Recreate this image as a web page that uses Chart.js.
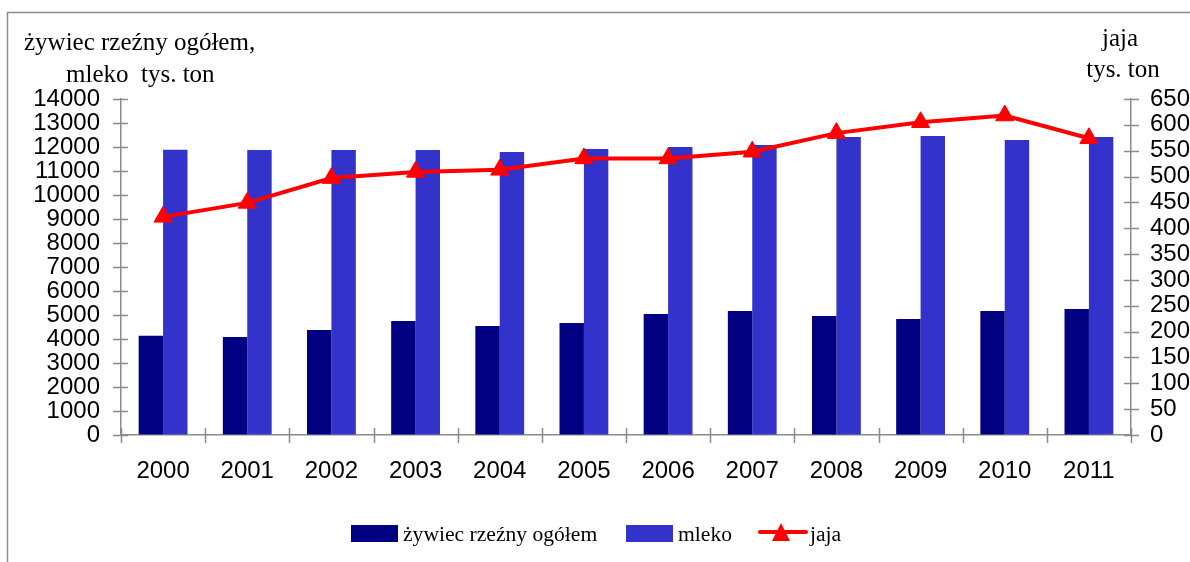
<!DOCTYPE html>
<html><head><meta charset="utf-8">
<script src="https://cdn.jsdelivr.net/npm/chart.js@4"></script>
<style>html,body{margin:0;padding:0;background:#fff;overflow:hidden}#wrap{position:absolute;left:0;top:0;width:1190px;height:562px}</style>
</head><body><div id="wrap"><canvas id="c" width="1190" height="562"></canvas></div>
<script>
const years = ['2000','2001','2002','2003','2004','2005','2006','2007','2008','2009','2010','2011'];
const zywiec = [4140,4080,4375,4750,4545,4670,5045,5170,4960,4835,5170,5250];
const mleko = [11890,11880,11880,11880,11790,11920,12000,12080,12420,12460,12290,12420];
const jaja = [422,449,497,509,513,535,535,548,584,605,618,574];
const leftAxis = {min:0, max:14000, step:1000};
const rightAxis = {min:0, max:650, step:50};
const leftTitle = ['żywiec rzeźny ogółem,', 'mleko  tys. ton'];
const rightTitle = ['jaja', 'tys. ton'];
const legendLabels = ['żywiec rzeźny ogółem', 'mleko', 'jaja'];

const AX = '#8c8c8c';
const C1 = '#000080', C2 = '#3333CC', C3 = '#FF0000';
const tickFont = {family:'"Liberation Sans", Arial, sans-serif', size:24};

const deco = {
  id:'deco',
  beforeDraw(chart){
    const ctx = chart.ctx;
    ctx.save();
    ctx.strokeStyle = AX; ctx.lineWidth = 1.5;
    ctx.strokeRect(7.5, 12.5, 1400, 1000);
    ctx.restore();
  },
  afterDraw(chart){
    const ctx = chart.ctx;
    const x = chart.scales.x, yl = chart.scales.y, yr = chart.scales.y2;
    ctx.save();
    ctx.strokeStyle = AX; ctx.lineWidth = 1.5;
    ctx.beginPath();
    yl.ticks.forEach(t => { const p = Math.round(yl.getPixelForValue(t.value))+0.5; ctx.moveTo(113,p); ctx.lineTo(128,p); });
    yr.ticks.forEach(t => { const p = Math.round(yr.getPixelForValue(t.value))+0.5; ctx.moveTo(1124,p); ctx.lineTo(1139,p); });
    const w = (x.right - x.left) / years.length;
    for (let i=0;i<=years.length;i++){ const p = Math.round(x.left + i*w)+0.5; ctx.moveTo(p,428); ctx.lineTo(p,443); }
    ctx.stroke();
    // axis titles
    ctx.fillStyle = '#000';
    ctx.textBaseline = 'alphabetic';
    ctx.font = '25px "Liberation Serif", "Times New Roman", serif';
    ctx.textAlign = 'left';
    ctx.fillText(leftTitle[0], 24, 50);
    ctx.fillText(leftTitle[1], 66, 82);
    ctx.textAlign = 'center';
    ctx.fillText(rightTitle[0], 1120, 46);
    ctx.fillText(rightTitle[1], 1123, 77);
    // legend
    ctx.font = '21.6px "Liberation Serif", "Times New Roman", serif';
    ctx.textAlign = 'left';
    ctx.fillStyle = C1; ctx.fillRect(351, 525, 47, 17);
    ctx.fillStyle = '#000'; ctx.fillText(legendLabels[0], 403, 541);
    ctx.fillStyle = C2; ctx.fillRect(626, 525, 47, 17);
    ctx.fillStyle = '#000'; ctx.fillText(legendLabels[1], 678, 541);
    ctx.strokeStyle = C3; ctx.lineWidth = 4; ctx.lineCap = 'round';
    ctx.beginPath(); ctx.moveTo(760, 532); ctx.lineTo(806, 532); ctx.stroke();
    ctx.fillStyle = C3; ctx.beginPath(); ctx.moveTo(781, 523); ctx.lineTo(790, 541); ctx.lineTo(772, 541); ctx.closePath(); ctx.fill();
    ctx.fillStyle = '#000'; ctx.fillText(legendLabels[2], 810, 541);
    ctx.restore();
  }
};

new Chart(document.getElementById('c'), {
  data: {
    labels: years,
    datasets: [
      {type:'line', label:legendLabels[2], data:jaja, yAxisID:'y2', borderColor:C3, backgroundColor:C3, borderWidth:4,
       pointStyle:'triangle', pointRadius:10.5, pointHoverRadius:10.5, pointBackgroundColor:C3, pointBorderColor:C3, pointBorderWidth:1, order:0, tension:0},
      {type:'bar', label:legendLabels[0], data:zywiec, yAxisID:'y', backgroundColor:C1, order:1, barPercentage:1, categoryPercentage:0.58},
      {type:'bar', label:legendLabels[1], data:mleko, yAxisID:'y', backgroundColor:C2, order:1, barPercentage:1, categoryPercentage:0.58}
    ]
  },
  options: {
    responsive:false, animation:false, devicePixelRatio:1,
    layout:{padding:{top:99, left:0, right:0, bottom:0}},
    plugins:{legend:{display:false}, tooltip:{enabled:false}},
    scales:{
      x:{offset:true, grid:{display:true, drawOnChartArea:false, drawTicks:true, tickLength:8, tickColor:'rgba(0,0,0,0)', offset:true},
         border:{display:true, color:AX, width:1.5},
         ticks:{color:'#000', font:tickFont, padding:14, autoSkip:false, maxRotation:0},
         afterFit(s){ s.height = 127; }},
      y:{position:'left', min:leftAxis.min, max:leftAxis.max,
         grid:{display:true, drawOnChartArea:false, drawTicks:true, tickLength:8, tickColor:'rgba(0,0,0,0)'},
         border:{display:true, color:AX, width:1.5},
         ticks:{stepSize:leftAxis.step, color:'#000', font:tickFont, padding:13, autoSkip:false, callback:v=>String(v)},
         afterFit(s){ s.width = 121; }},
      y2:{position:'right', min:rightAxis.min, max:rightAxis.max,
         grid:{display:true, drawOnChartArea:false, drawTicks:true, tickLength:8, tickColor:'rgba(0,0,0,0)'},
         border:{display:true, color:AX, width:1.5},
         ticks:{stepSize:rightAxis.step, color:'#000', font:tickFont, padding:11, autoSkip:false, callback:v=>String(v)},
         afterFit(s){ s.width = 59; }}
    }
  },
  plugins:[deco]
});
</script>
</body></html>
